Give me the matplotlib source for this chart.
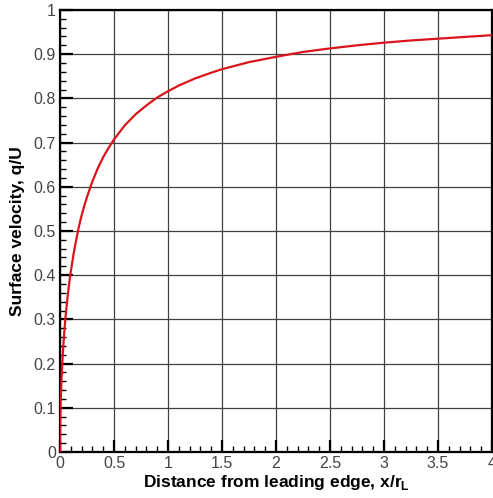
import numpy as np
import matplotlib
matplotlib.use('Agg')
import matplotlib.pyplot as plt
from matplotlib.ticker import MultipleLocator

# values
x_dist = [0.0, 0.001, 0.002, 0.004, 0.006, 0.008, 0.01, 0.015, 0.02, 0.03, 0.04,
          0.05, 0.06, 0.075, 0.09, 0.1, 0.125, 0.15, 0.175, 0.2, 0.225, 0.25,
          0.3, 0.35, 0.4, 0.45, 0.5, 0.6, 0.7, 0.8, 0.9, 1.0, 1.1, 1.25, 1.4,
          1.5, 1.75, 2.0, 2.25, 2.5, 2.75, 3.0, 3.25, 3.5, 3.75, 4.0]
q_over_u = [0.0, 0.045, 0.063, 0.089, 0.109, 0.125, 0.139, 0.170, 0.196, 0.238,
            0.272, 0.302, 0.327, 0.361, 0.391, 0.408, 0.447, 0.480, 0.510, 0.535,
            0.557, 0.577, 0.612, 0.642, 0.667, 0.688, 0.707, 0.739, 0.764, 0.784,
            0.802, 0.816, 0.829, 0.845, 0.858, 0.866, 0.882, 0.894, 0.905, 0.913,
            0.920, 0.926, 0.931, 0.935, 0.939, 0.943]

x_ticks = [0, 0.5, 1, 1.5, 2, 2.5, 3, 3.5, 4]
x_tick_labels = ['0', '0.5', '1', '1.5', '2', '2.5', '3', '3.5', '4']
y_ticks = [0, 0.1, 0.2, 0.3, 0.4, 0.5, 0.6, 0.7, 0.8, 0.9, 1]
y_tick_labels = ['0', '0.1', '0.2', '0.3', '0.4', '0.5', '0.6', '0.7', '0.8', '0.9', '1']

plt.rcParams['font.family'] = ['Liberation Sans', 'DejaVu Sans']

fig = plt.figure(figsize=(4.93, 4.98), dpi=100)
ax = fig.add_axes([0.1217, 0.0924, 0.8763, 0.8876])

ax.plot(x_dist, q_over_u, color='#d9141b', lw=1.6, zorder=3)

ax.set_xlim(0, 4)
ax.set_ylim(0, 1)
ax.set_xticks(x_ticks)
ax.set_xticklabels(x_tick_labels)
ax.set_yticks(y_ticks)
ax.set_yticklabels(y_tick_labels)
ax.xaxis.set_minor_locator(MultipleLocator(0.1))
ax.yaxis.set_minor_locator(MultipleLocator(0.02))

ax.grid(True, which='major', color='#404040', lw=0.9)
ax.tick_params(which='major', direction='in', length=9, width=1.6, color='black',
               labelsize=11.5, labelcolor='#444444', pad=3)
ax.tick_params(which='minor', direction='in', length=4, width=1.0, color='black')
for sp in ax.spines.values():
    sp.set_linewidth(1.6)
    sp.set_color('black')

ax.set_xlabel(r'Distance from leading edge, x/r$_\mathregular{L}$', fontsize=12.5,
              fontweight='bold', labelpad=1)
ax.set_ylabel('Surface velocity, q/U', fontsize=12.5, fontweight='bold', labelpad=6)

fig.savefig('out.png', dpi=100)
